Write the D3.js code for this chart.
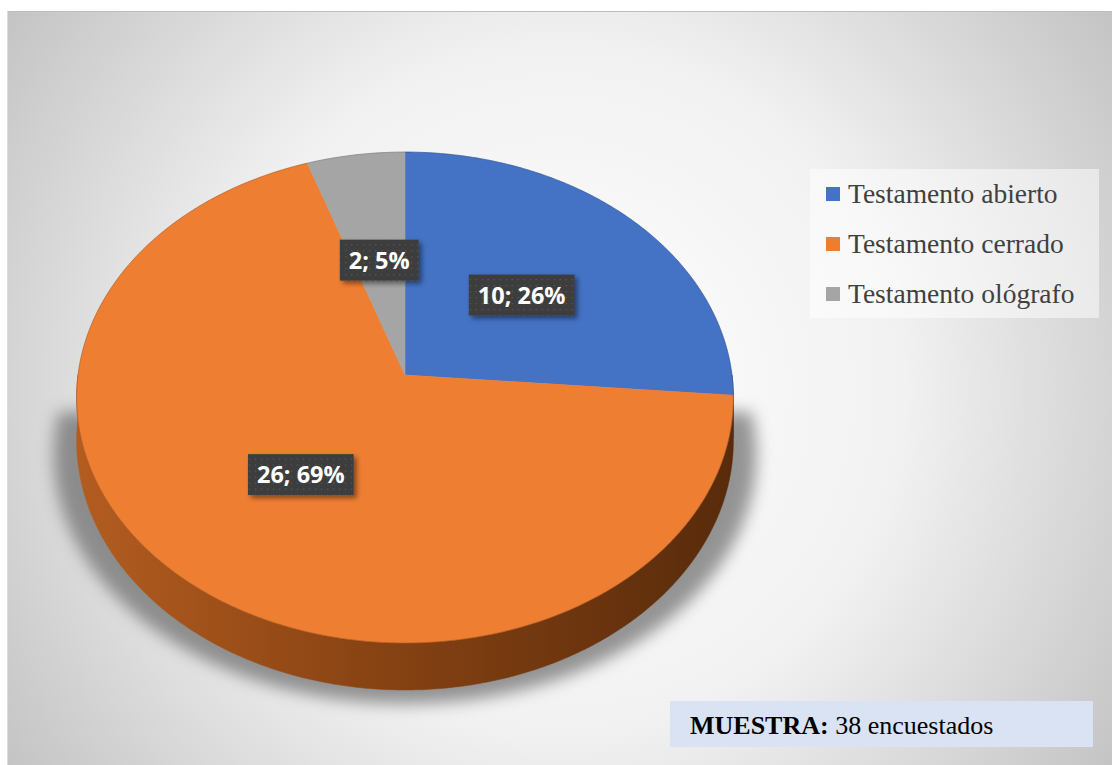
<!DOCTYPE html>
<html><head><meta charset="utf-8">
<script src="https://cdn.jsdelivr.net/npm/d3@7"></script>
<style>html,body{margin:0;padding:0;background:#fff;} svg{display:block;}</style>
</head><body>
<svg id="chart" width="1112" height="765"></svg>
<script>
// ---- data ----
const categories = ["Testamento abierto", "Testamento cerrado", "Testamento ológrafo"];
const values = [10, 26, 2];
const valueLabels = ["10; 26%", "26; 69%", "2; 5%"];
const colors = ["#4472C4", "#EE7E32", "#A5A5A5"];
const legendColors = ["#4472C4", "#ED7D31", "#A5A5A5"];
const sideColors = ["#2d4f8c", "url(#sideGrad)", "#737373"];
const sampleTitle = "MUESTRA:";
const sampleText = " 38 encuestados";

const W = 1112, H = 765;
const svg = d3.select("#chart");
const defs = svg.append("defs");

// background radial gradient
const bg = defs.append("radialGradient").attr("id", "bg")
  .attr("gradientUnits", "userSpaceOnUse").attr("cx", 560).attr("cy", 390).attr("r", 690);
[[0, "#ffffff"], [0.5, "#f1f1f1"], [0.8, "#d4d4d4"], [1, "#c1c1c1"]]
  .forEach(([o, c]) => bg.append("stop").attr("offset", o).attr("stop-color", c));

const sg = defs.append("linearGradient").attr("id", "sideGrad")
  .attr("gradientUnits", "userSpaceOnUse").attr("x1", 79).attr("x2", 732).attr("y1", 0).attr("y2", 0);
[[0, "#b35c20"], [0.45, "#884313"], [1, "#582b0b"]]
  .forEach(([o, c]) => sg.append("stop").attr("offset", o).attr("stop-color", c));

const blur = defs.append("filter").attr("id", "shadowBlur").attr("x", "-20%").attr("y", "-20%").attr("width", "140%").attr("height", "140%");
blur.append("feGaussianBlur").attr("stdDeviation", 8);

const lblShadow = defs.append("filter").attr("id", "lblShadow").attr("x", "-20%").attr("y", "-30%").attr("width", "150%").attr("height", "170%");
lblShadow.append("feDropShadow").attr("dx", 3).attr("dy", 3).attr("stdDeviation", 2.5)
  .attr("flood-color", "#000").attr("flood-opacity", 0.45);

const pat = defs.append("pattern").attr("id", "dots").attr("patternUnits", "userSpaceOnUse")
  .attr("width", 6).attr("height", 6);
pat.append("rect").attr("width", 6).attr("height", 6).attr("fill", "#3d3d3d");
pat.append("rect").attr("x", 2).attr("y", 2).attr("width", 1.2).attr("height", 1.2).attr("fill", "#5c5c5c");

// panel
svg.append("rect").attr("x", 7).attr("y", 11).attr("width", W - 7).attr("height", H - 11).attr("fill", "url(#bg)");
svg.append("line").attr("x1", 7).attr("x2", W).attr("y1", 11.5).attr("y2", 11.5).attr("stroke", "#bdbdbd").attr("stroke-width", 1);
svg.append("line").attr("x1", 7.5).attr("x2", 7.5).attr("y1", 11).attr("y2", H).attr("stroke", "#dcdcdc").attr("stroke-width", 1);

// ---- 3D pie projection ----
const cx = 405, cy = 375, A = 327, B = 243.4, P = 0.0917, T = 42.7;
function proj(theta, f = 1, h = 0) {
  const x = Math.sin(theta) * f, z = -Math.cos(theta) * f;
  const d = 1 - P * z;
  return [cx + A * x / d, cy + (B * z + T * h) / d];
}
function arcPts(a0, a1, h) {
  const n = Math.max(2, Math.ceil((a1 - a0) / 0.01));
  return d3.range(n + 1).map(i => proj(a0 + (a1 - a0) * i / n, 1, h));
}
const line = d3.line();
const arcs = d3.pie().sort(null).value(d => d)(values);

// shadow
{
  const pts = arcPts(Math.PI / 2 - 0.08, 3 * Math.PI / 2 + 0.08, 1)
    .map(([x, y]) => [cx + (x - cx) * 1.07, y + 14]);
  svg.append("path").attr("d", line(pts) + "Z").attr("fill", "#6a6a6a").attr("opacity", 0.7)
    .attr("filter", "url(#shadowBlur)");
}

const pieG = svg.append("g");
// sides
arcs.forEach((a, i) => {
  const a0 = Math.max(a.startAngle, Math.PI / 2), a1 = Math.min(a.endAngle, 3 * Math.PI / 2);
  if (a1 <= a0) return;
  const pts = arcPts(a0, a1, 0).concat(arcPts(a0, a1, 1).reverse());
  pieG.append("path").attr("d", line(pts) + "Z").attr("fill", sideColors[i])
    .attr("stroke", sideColors[i]).attr("stroke-width", 0.5);
});
// tops
arcs.forEach((a, i) => {
  const pts = [[cx, cy]].concat(arcPts(a.startAngle, a.endAngle, 0));
  pieG.append("path").attr("d", line(pts) + "Z").attr("fill", colors[i])
    .attr("stroke", colors[i]).attr("stroke-width", 0.6);
});
// rim outline
pieG.append("path").attr("d", line(arcPts(0, 2 * Math.PI, 0)) + "Z").attr("fill", "none")
  .attr("stroke", "rgba(0,0,0,0.25)").attr("stroke-width", 0.7);

// labels
arcs.forEach((a, i) => {
  const mid = (a.startAngle + a.endAngle) / 2;
  const [lx, ly] = proj(mid, 0.5, 0);
  const g = svg.append("g").attr("transform", `translate(${lx},${ly})`);
  const t = g.append("text").text(valueLabels[i])
    .attr("font-family", "'Open Sans', sans-serif").attr("font-weight", 700).attr("font-size", 23.5)
    .attr("fill", "#fff").attr("text-anchor", "middle").attr("y", 8.5);
  const bb = t.node().getBBox();
  const bw = bb.width + 18, bh = 41;
  g.insert("rect", "text").attr("x", -bw / 2).attr("y", -bh / 2).attr("width", bw).attr("height", bh)
    .attr("fill", "url(#dots)").attr("filter", "url(#lblShadow)");
});

// legend
svg.append("rect").attr("x", 810).attr("y", 169).attr("width", 289).attr("height", 149)
  .attr("fill", "#ffffff").attr("opacity", 0.5);
const lg = svg.append("g");
categories.forEach((c, i) => {
  const y = 194 + i * 50;
  lg.append("rect").attr("x", 826).attr("y", y - 7).attr("width", 14).attr("height", 14).attr("fill", legendColors[i]);
  lg.append("text").attr("x", 848).attr("y", y + 9).text(c)
    .attr("font-family", "'Liberation Serif', 'Times New Roman', serif").attr("font-size", 27.5).attr("fill", "#404040");
});

// sample box
svg.append("rect").attr("x", 670).attr("y", 701).attr("width", 423).attr("height", 46).attr("fill", "#DAE3F3");
const st = svg.append("text").attr("x", 690).attr("y", 734)
  .attr("font-family", "'Liberation Serif', 'Times New Roman', serif").attr("font-size", 26).attr("fill", "#000");
st.append("tspan").attr("font-weight", 700).text(sampleTitle);
st.append("tspan").text(sampleText);
</script>
</body></html>
